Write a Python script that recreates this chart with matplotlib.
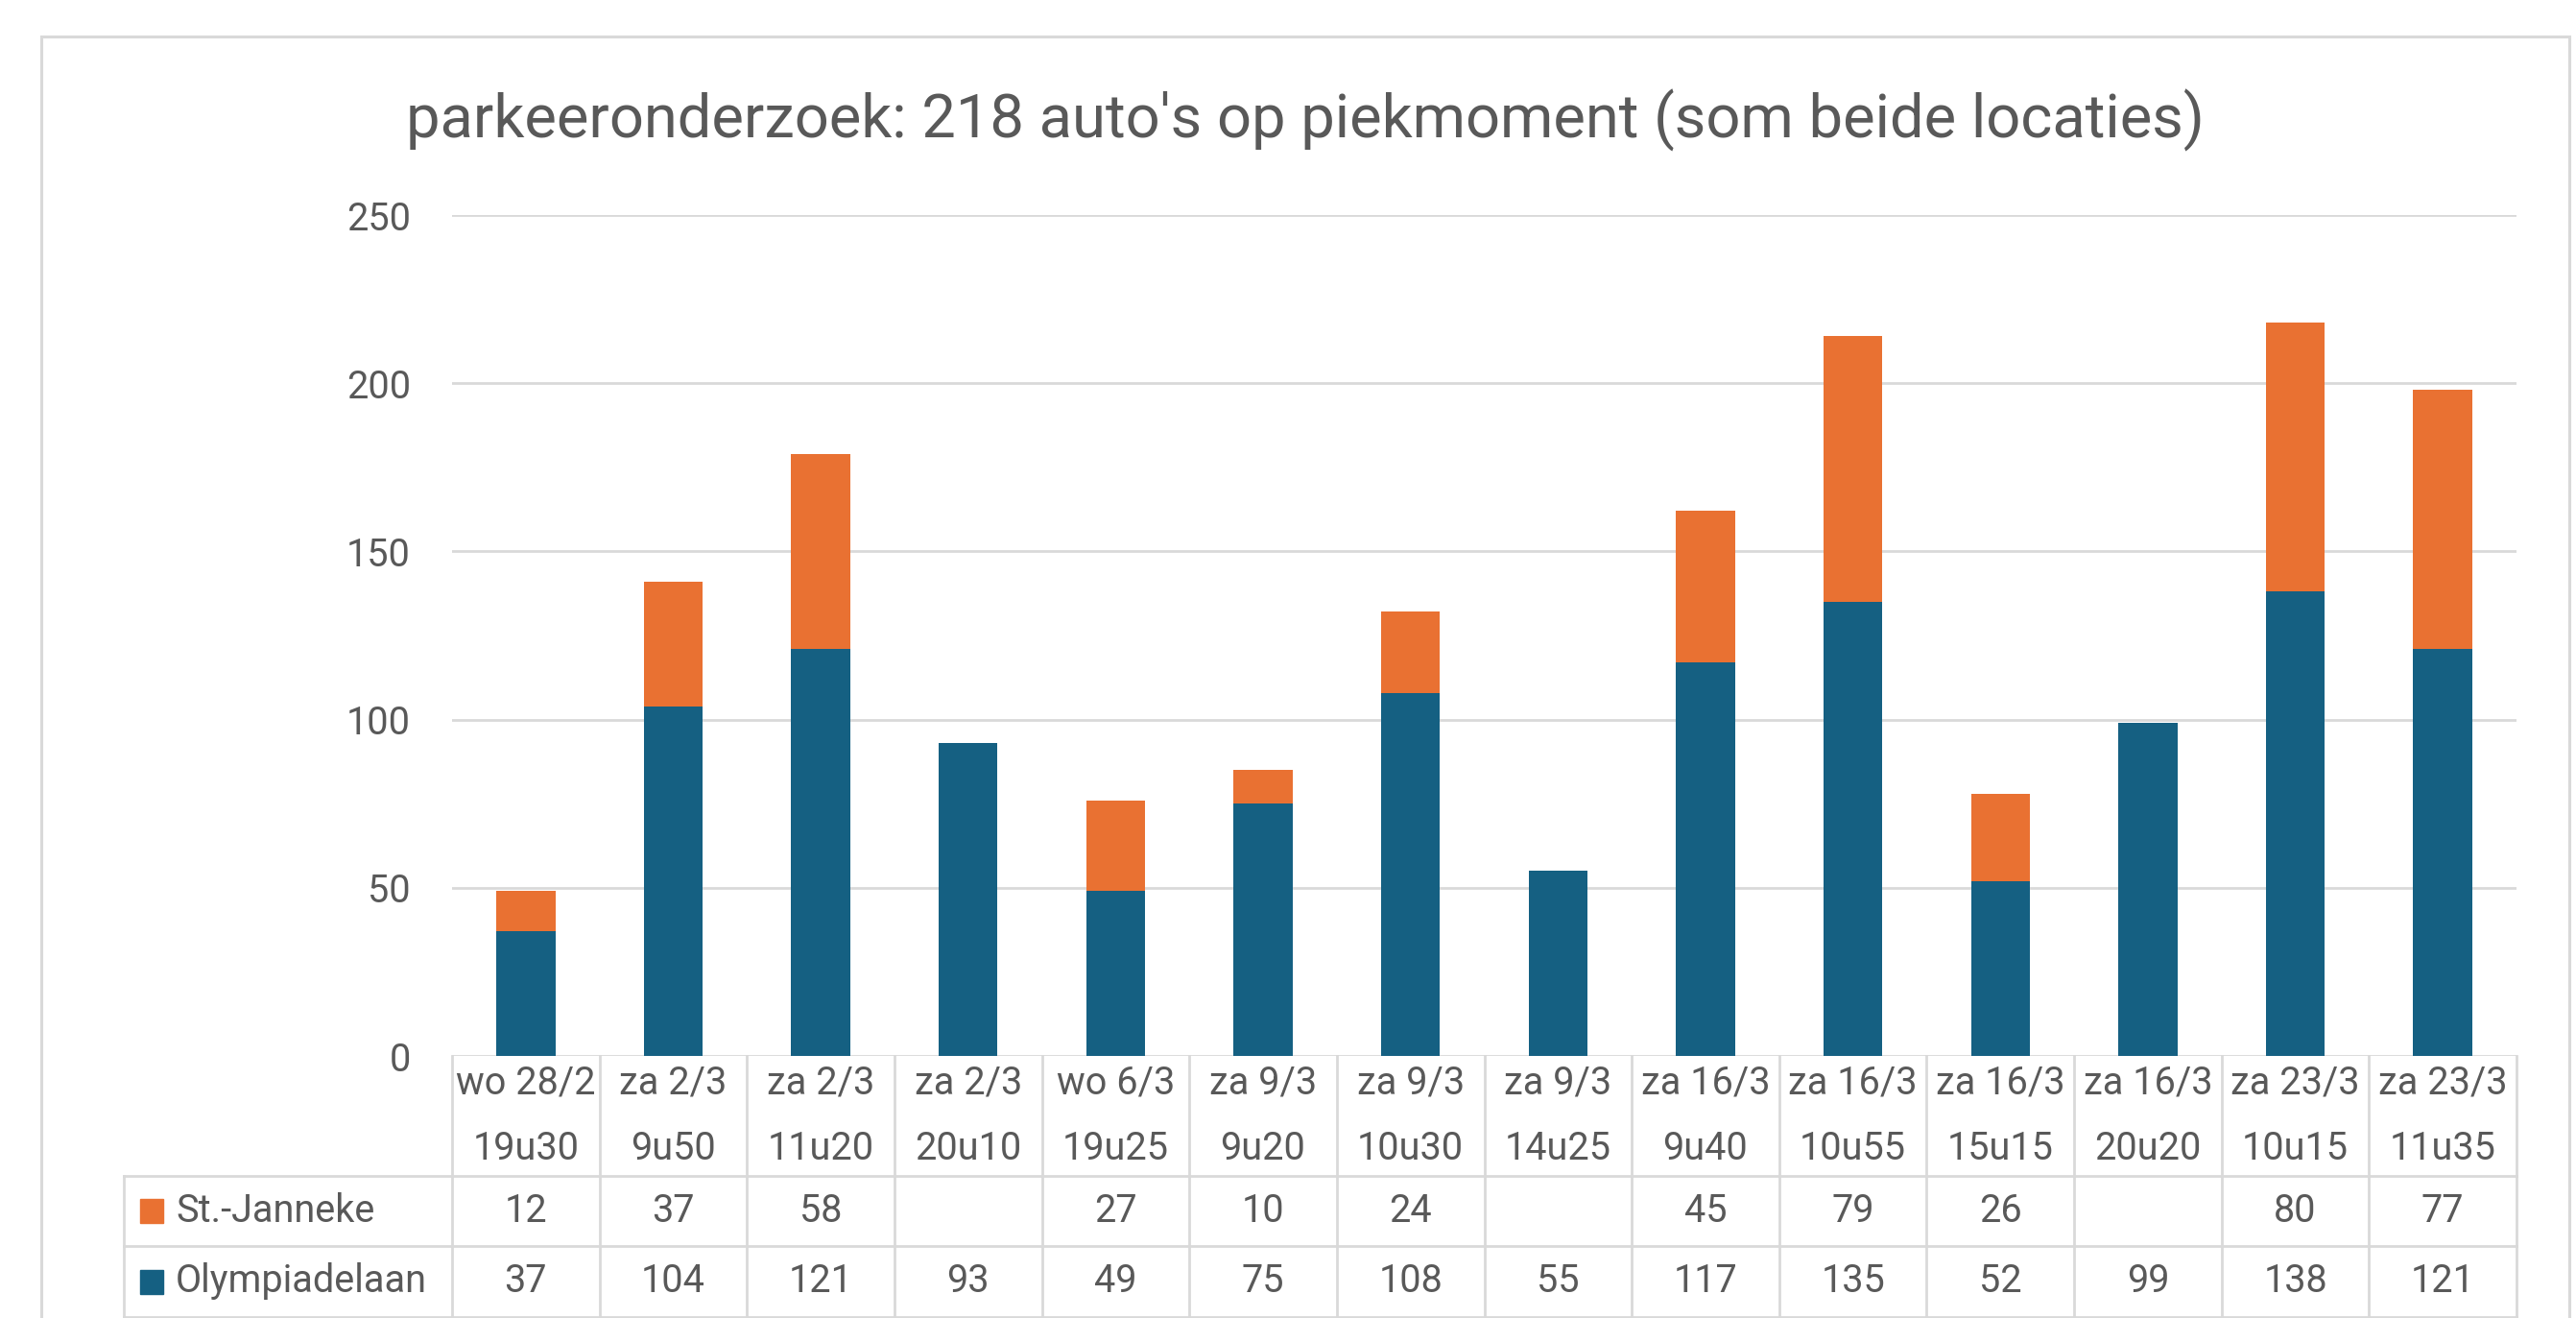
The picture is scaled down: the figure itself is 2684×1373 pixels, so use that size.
import numpy as np
import matplotlib.pyplot as plt
from matplotlib.patches import Rectangle

plt.rcParams['font.family'] = ['Roboto', 'DejaVu Sans']

# -- data --
days = ['wo 28/2', 'za 2/3', 'za 2/3', 'za 2/3', 'wo 6/3', 'za 9/3', 'za 9/3',
        'za 9/3', 'za 16/3', 'za 16/3', 'za 16/3', 'za 16/3', 'za 23/3', 'za 23/3']
times = ['19u30', '9u50', '11u20', '20u10', '19u25', '9u20', '10u30',
         '14u25', '9u40', '10u55', '15u15', '20u20', '10u15', '11u35']
janneke = [12, 37, 58, None, 27, 10, 24, None, 45, 79, 26, None, 80, 77]
olympia = [37, 104, 121, 93, 49, 75, 108, 55, 117, 135, 52, 99, 138, 121]
series_names = ['St.-Janneke', 'Olympiadelaan']

title = "parkeeronderzoek: 218 auto's op piekmoment (som beide locaties)"

BLUE = '#156082'
ORANGE = '#E97132'
GRID = '#D9D9D9'
TXT = '#595959'

W, H = 2684, 1373
fig = plt.figure(figsize=(W / 100, H / 100), dpi=100)

# chart border
fig.patches.append(Rectangle((43 / W, -0.01), (2677 - 43) / W, 1 - 38 / H + 0.01,
                             transform=fig.transFigure, fill=False,
                             edgecolor=GRID, linewidth=2.2))

ax = fig.add_axes([471 / W, 1 - 1100 / H, (2622 - 471) / W, (1100 - 224) / H])

x = np.arange(len(olympia))
jan = np.array([v if v is not None else 0 for v in janneke])
ax.bar(x, olympia, width=0.4, color=BLUE, zorder=3)
ax.bar(x, jan, bottom=olympia, width=0.4, color=ORANGE, zorder=3)

ax.set_xlim(-0.5, len(x) - 0.5)
ax.set_ylim(0, 250)
ax.set_yticks(range(0, 251, 50))
ax.yaxis.grid(True, color=GRID, linewidth=2)
ax.set_axisbelow(True)
ax.set_xticks([])
for s in ax.spines.values():
    s.set_visible(False)
ax.tick_params(axis='y', length=0, pad=31, labelsize=28.5, labelcolor=TXT)

fig.text(1360 / W, 1 - 143 / H, title, ha='center', va='baseline',
         fontsize=45.5, color=TXT)

# -- data table below the plot --
tr = ax.get_xaxis_transform()
ph = 1100 - 224
y_head = -125 / ph
y_r1 = -198 / ph
y_r2 = -272 / ph
x_left = -0.5 - 342 / ((2622 - 471) / len(x))
x_right = len(x) - 0.5

lk = dict(color=GRID, linewidth=2, transform=tr, clip_on=False)
for xv in np.arange(-0.5, len(x), 1.0):
    ax.plot([xv, xv], [0, y_r2], **lk)
ax.plot([x_left, x_left], [y_head, y_r2], **lk)
for yv in [y_head, y_r1, y_r2]:
    ax.plot([x_left, x_right], [yv, yv], **lk)

for i in x:
    ax.text(i, y_head / 2, days[i] + '\n' + times[i], transform=tr,
            ha='center', va='center', fontsize=28.5, color=TXT, linespacing=1.95)
    if janneke[i] is not None:
        ax.text(i, (y_head + y_r1) / 2, str(janneke[i]), transform=tr,
                ha='center', va='center', fontsize=28.5, color=TXT)
    ax.text(i, (y_r1 + y_r2) / 2, str(olympia[i]), transform=tr,
            ha='center', va='center', fontsize=28.5, color=TXT)

# legend keys in the row headers
col_w = (2622 - 471) / len(x)
for name, col, (y0, y1) in zip(series_names, [ORANGE, BLUE],
                               [(y_head, y_r1), (y_r1, y_r2)]):
    yc = (y0 + y1) / 2
    kx = -0.5 - (471 - 146) / col_w
    ax.add_patch(Rectangle((kx, yc - 12.5 / ph), 24 / col_w, 25 / ph,
                           transform=tr, color=col, clip_on=False))
    ax.text(-0.5 - (471 - 183) / col_w, yc, name, transform=tr,
            ha='left', va='center', fontsize=28.5, color=TXT)

fig.savefig('out.png', dpi=100, facecolor='white')
